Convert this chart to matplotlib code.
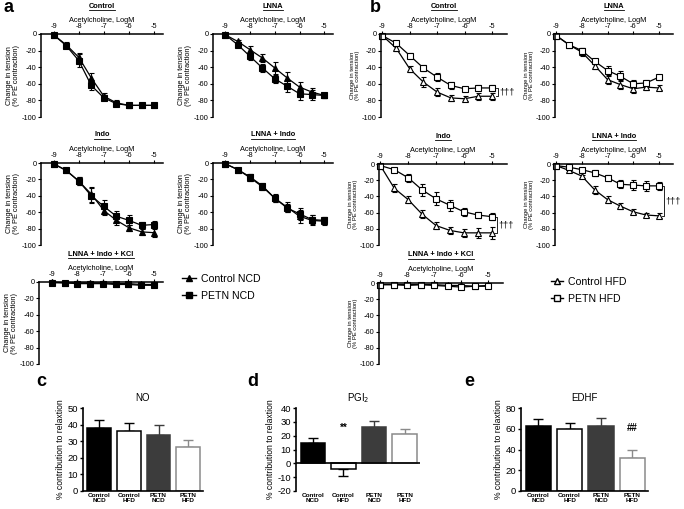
import matplotlib
matplotlib.use("Agg")
import matplotlib.pyplot as plt
from matplotlib.lines import Line2D

plt.rcParams['font.family'] = ['Liberation Sans', 'DejaVu Sans']
plt.rcParams['axes.unicode_minus'] = False

# acetylcholine concentrations (log M)
conc = [-9, -8.5, -8, -7.5, -7, -6.5, -6, -5.5, -5]

# panel a: normal chow diet (triangle = Control NCD, square = PETN NCD)
a_ctrl_tri = [-1, -13, -28, -53, -75, -83, -86, -86, -86]
a_ctrl_tri_err = [2, 3, 5, 6, 4, 3, 2, 2, 2]
a_ctrl_sq = [-1, -14, -32, -62, -77, -84, -86, -86, -86]
a_ctrl_sq_err = [2, 3, 8, 6, 3, 3, 3, 2, 2]

a_lnna_tri = [-1, -9, -19, -29, -41, -53, -64, -70, -74]
a_lnna_tri_err = [1, 2, 5, 5, 7, 7, 6, 5, 3]
a_lnna_sq = [-1, -13, -27, -41, -54, -63, -72, -73, -74]
a_lnna_sq_err = [1, 3, 4, 5, 5, 7, 7, 6, 3]

a_indo_tri = [-1, -9, -22, -38, -58, -70, -79, -84, -85]
a_indo_tri_err = [1, 2, 5, 9, 5, 6, 4, 4, 5]
a_indo_sq = [-1, -9, -22, -40, -53, -65, -70, -76, -75]
a_indo_sq_err = [1, 2, 5, 9, 8, 7, 6, 4, 4]

a_li_tri = [-1, -8, -18, -29, -43, -54, -65, -70, -71]
a_li_tri_err = [1, 2, 4, 4, 5, 6, 8, 6, 5]
a_li_sq = [-1, -8, -17, -28, -43, -55, -62, -69, -70]
a_li_sq_err = [1, 2, 3, 4, 4, 5, 7, 5, 4]

a_kcl_tri = [0, -1, -1, -1, -1, -2, -2, -3, -3]
a_kcl_tri_err = [1, 1, 1, 1, 1, 1, 1, 1, 1]
a_kcl_sq = [-1, -1, -2, -2, -2, -3, -3, -4, -4]
a_kcl_sq_err = [1, 1, 1, 1, 1, 1, 1, 1, 1]

# panel b: high fat diet (open triangle = Control HFD, open square = PETN HFD)
b_ctrl_tri = [-2, -17, -42, -58, -70, -77, -78, -75, -75]
b_ctrl_tri_err = [2, 3, 4, 6, 5, 4, 3, 4, 4]
b_ctrl_sq = [-2, -11, -26, -41, -52, -62, -66, -65, -65]
b_ctrl_sq_err = [2, 2, 3, 4, 5, 4, 2, 3, 4]

b_lnna_tri = [-2, -13, -22, -38, -55, -61, -66, -64, -65]
b_lnna_tri_err = [2, 2, 5, 4, 5, 5, 5, 3, 3]
b_lnna_sq = [-2, -13, -20, -33, -44, -51, -60, -59, -52]
b_lnna_sq_err = [2, 2, 3, 3, 5, 6, 4, 3, 3]

b_indo_tri = [-2, -30, -44, -62, -76, -82, -85, -85, -85]
b_indo_tri_err = [1, 5, 4, 5, 4, 4, 5, 6, 7]
b_indo_sq = [-2, -7, -17, -32, -43, -51, -59, -63, -65]
b_indo_sq_err = [1, 2, 5, 7, 8, 7, 5, 4, 4]

b_li_tri = [-2, -8, -15, -32, -44, -52, -59, -63, -64]
b_li_tri_err = [1, 2, 2, 5, 4, 4, 3, 3, 3]
b_li_sq = [-2, -4, -7, -11, -17, -25, -26, -27, -27]
b_li_sq_err = [1, 2, 2, 4, 4, 5, 6, 6, 5]

b_kcl_tri = [-2, -2, -2, -2, -2, -3, -3, -4, -3]
b_kcl_tri_err = [1, 1, 1, 1, 1, 1, 1, 1, 1]
b_kcl_sq = [-2, -2, -3, -2, -3, -4, -5, -4, -4]
b_kcl_sq_err = [1, 1, 1, 1, 1, 1, 1, 1, 1]

# panels c-e: contribution to relaxation
groups = ['Control\nNCD', 'Control\nHFD', 'PETN\nNCD', 'PETN\nHFD']
no_vals = [38, 36, 34, 26.5]
no_err = [5, 5, 5.5, 4]
pgi_vals = [15, -4, 26, 21.5]
pgi_err = [3.5, 5.5, 4.5, 3.5]
edhf_vals = [63, 59.5, 62.5, 31.5]
edhf_err = [6.5, 6.5, 7.5, 8]

W, H = 684, 509
fig = plt.figure(figsize=(W / 100, H / 100), dpi=100)


def add_ax(l, t, r, b):
    return fig.add_axes([l / W, 1 - b / H, (r - l) / W, (b - t) / H])


def underlined(x, y, s, size=5.3):
    t = fig.text(x / W, 1 - y / H, s, ha='center', va='center',
                 fontsize=size, fontweight='bold')
    bb = t.get_window_extent(renderer=fig.canvas.get_renderer())
    yl = bb.y0 - 0.5
    fig.add_artist(Line2D([bb.x0 / W, bb.x1 / W], [yl / H, yl / H],
                          color='black', lw=0.6))


def curve_panel(l, t, r, b, tri, tri_err, sq, sq_err, title, hfd):
    ax = add_ax(l, t, r, b)
    face = 'white' if hfd else 'black'
    for y, e, m in ((tri, tri_err, '^'), (sq, sq_err, 's')):
        ax.errorbar(conc, y, yerr=e, color='black', marker=m, mfc=face,
                    mec='black', ms=4.2, mew=0.8, lw=0.9, elinewidth=0.8,
                    capsize=1.8, capthick=0.8, clip_on=False)
    if hfd:
        ax.set_xlim(-9.05, -4.45)
    else:
        ax.set_xlim(-9.5, -4.65)
    ax.set_ylim(-100, 0)
    ax.xaxis.tick_top()
    ax.xaxis.set_label_position('top')
    ax.set_xticks([-9, -8, -7, -6, -5])
    ax.set_xticklabels(['-9', '-8', '-7', '-6', '-5'])
    ax.set_yticks(range(-100, 1, 20))
    ax.set_xlabel('Acetylcholine, LogM', fontsize=5.3, labelpad=0.5)
    ax.spines['bottom'].set_visible(False)
    ax.spines['right'].set_visible(False)
    for sp in ('top', 'left'):
        ax.spines[sp].set_linewidth(1.1)
    ax.tick_params(axis='both', length=2, width=0.8, pad=1, labelsize=5.3)
    ax.set_ylabel('Change in tension\n(% PE contraction)',
                  fontsize=4.2 if hfd else 5.3, labelpad=1.5, linespacing=1.0)
    ax.patch.set_alpha(0)
    underlined((l + r) / 2, t - 28, title)
    return ax


def sig_bracket(ax, x, y1, y2, label):
    ax.plot([x - 0.08, x, x, x - 0.08], [y1, y1, y2, y2], color='black',
            lw=0.6, clip_on=False)
    ax.text(x + 0.06, (y1 + y2) / 2, label, fontsize=6.5, va='center',
            ha='left', clip_on=False)


# panel a
curve_panel(41, 34, 163, 117, a_ctrl_tri, a_ctrl_tri_err, a_ctrl_sq,
            a_ctrl_sq_err, 'Control', False)
curve_panel(213, 34, 333, 117, a_lnna_tri, a_lnna_tri_err, a_lnna_sq,
            a_lnna_sq_err, 'LNNA', False)
curve_panel(41, 163, 163, 245, a_indo_tri, a_indo_tri_err, a_indo_sq,
            a_indo_sq_err, 'Indo', False)
curve_panel(213, 163, 333, 245, a_li_tri, a_li_tri_err, a_li_sq,
            a_li_sq_err, 'LNNA + Indo', False)
curve_panel(39, 282, 163, 364, a_kcl_tri, a_kcl_tri_err, a_kcl_sq,
            a_kcl_sq_err, 'LNNA + Indo + KCl', False)

# panel b
ax_bc = curve_panel(381, 34, 507, 117, b_ctrl_tri, b_ctrl_tri_err, b_ctrl_sq,
                    b_ctrl_sq_err, 'Control', True)
curve_panel(555, 34, 673, 117, b_lnna_tri, b_lnna_tri_err, b_lnna_sq,
            b_lnna_sq_err, 'LNNA', True)
ax_bi = curve_panel(379, 164, 507, 245, b_indo_tri, b_indo_tri_err, b_indo_sq,
                    b_indo_sq_err, 'Indo', True)
ax_bli = curve_panel(555, 164, 673, 245, b_li_tri, b_li_tri_err, b_li_sq,
                     b_li_sq_err, 'LNNA + Indo', True)
curve_panel(379, 283, 503, 364, b_kcl_tri, b_kcl_tri_err, b_kcl_sq,
            b_kcl_sq_err, 'LNNA + Indo + KCl', True)

sig_bracket(ax_bc, -4.78, b_ctrl_sq[-1], b_ctrl_tri[-1], '†††')
sig_bracket(ax_bi, -4.82, b_indo_sq[-1], b_indo_tri[-1], '†††')
sig_bracket(ax_bli, -4.8, b_li_sq[-1], b_li_tri[-1], '†††')

# legends
h_ncd = [Line2D([], [], color='black', marker='^', ms=5, lw=1),
         Line2D([], [], color='black', marker='s', ms=5, lw=1)]
fig.legend(h_ncd, ['Control NCD', 'PETN NCD'], loc='upper left',
           bbox_to_anchor=(182 / W, 1 - 274 / H), frameon=False,
           fontsize=7.6, handlelength=1.3, handletextpad=0.5,
           labelspacing=0.65, borderpad=0, borderaxespad=0)
h_hfd = [Line2D([], [], color='black', marker='^', mfc='white', ms=4.5, lw=1),
         Line2D([], [], color='black', marker='s', mfc='white', ms=4.5, lw=1)]
fig.legend(h_hfd, ['Control HFD', 'PETN HFD'], loc='upper left',
           bbox_to_anchor=(551 / W, 1 - 277 / H), frameon=False,
           fontsize=7.6, handlelength=1.1, handletextpad=0.5,
           labelspacing=0.65, borderpad=0, borderaxespad=0)

# bar panels
bar_face = ['black', 'white', '#3c3c3c', 'white']
bar_edge = ['black', 'black', '#3c3c3c', '#8a8a8a']


def bar_panel(l, t, r, b, vals, errs, title, ylim, yticks):
    ax = add_ax(l, t, r, b)
    pos = range(len(vals))
    for i, (v, e) in enumerate(zip(vals, errs)):
        ax.bar(i, v, width=0.8, color=bar_face[i], edgecolor=bar_edge[i],
               lw=1.1, zorder=2)
        ax.errorbar(i, v, yerr=[[0], [e]] if v >= 0 else [[e], [0]],
                    color=bar_edge[i], capsize=3.5, elinewidth=1.0,
                    capthick=1.0, zorder=1)
    ax.set_xlim(-0.55, 3.5)
    ax.set_ylim(*ylim)
    ax.set_yticks(yticks)
    ax.set_xticks(list(pos))
    ax.set_xticklabels(groups, fontsize=4.6, fontweight='bold',
                       linespacing=1.1)
    ax.tick_params(axis='x', length=0, pad=1.5)
    ax.tick_params(axis='y', length=2.5, width=1, pad=1, labelsize=6.8)
    ax.spines['right'].set_visible(False)
    ax.spines['top'].set_visible(False)
    for sp in ('left', 'bottom'):
        ax.spines[sp].set_linewidth(1.2)
    ax.set_ylabel('% contribution to relaxtion', fontsize=6.2, labelpad=1.5)
    ax.set_title(title, fontsize=7, pad=5)
    return ax


bar_panel(83, 408, 203, 491, no_vals, no_err, 'NO', (0, 50), range(0, 51, 10))
ax_d = bar_panel(296, 408, 420, 491, pgi_vals, pgi_err, 'PGI$_2$', (-20, 40),
                 range(-20, 41, 10))
ax_d.spines['bottom'].set_visible(False)
ax_d.axhline(0, color='black', lw=1.2, zorder=3)
ax_d.text(1, 25.5, '**', ha='center', va='center', fontsize=7,
          fontweight='bold')
ax_e = bar_panel(521, 408, 648, 491, edhf_vals, edhf_err, 'EDHF', (0, 80),
                 range(0, 81, 20))
ax_e.text(3, 60.5, '##', ha='center', va='center', fontsize=7,
          fontweight='bold')

# panel letters
for s, x, y in (('a', 9, 8), ('b', 375, 8), ('c', 41, 381), ('d', 253, 381),
                ('e', 469, 381)):
    fig.text(x / W, 1 - y / H, s, fontsize=13, fontweight='bold',
             ha='center', va='center')

fig.savefig('out.png', dpi=100)
